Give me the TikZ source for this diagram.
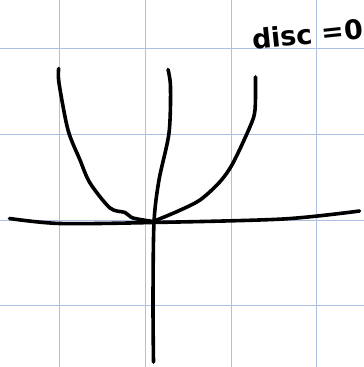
\documentclass[tikz,border=0pt]{standalone}
\usepackage{fontspec}
\newfontfamily\handfont{DejaVu Sans}
\usepackage{tikz}
\usetikzlibrary{positioning}
\definecolor{gridblue}{RGB}{172,192,228}

\begin{document}
\begin{tikzpicture}[
    x=1pt,
    y=-1pt,
    gridline/.style={
        draw=gridblue,
        line width=0.9pt
    },
    pen/.style={
        draw=black,
        line width=3.6pt,
        line cap=round,
        line join=round
    },
    label/.style={
        font=\handfont\bfseries\fontsize{27}{27}\selectfont,
        inner sep=0pt,
        anchor=base west
    }
]

\useasboundingbox (0,0) rectangle (364,367);
\clip (0,0) rectangle (364,367);

% grid paper
\foreach \gx in {59.5,145.5,231,316.5}
    \draw[gridline] (\gx,0) -- (\gx,367);
\foreach \gy in {48,134,220,305.5}
    \draw[gridline] (0,\gy) -- (364,\gy);

% axes
\draw[pen] plot[smooth] coordinates {
    (9.5,218.5) (60,223.5) (153,222.5) (283,219) (359.5,211)};
\draw[pen] plot[smooth] coordinates {
    (168,69.5) (170.5,87) (169,133) (159,180) (154,222.5) (153,300) (153.5,362)};

% curves
\draw[pen] plot[smooth] coordinates {
    (58.7,68.5) (59,83) (68,130) (80,160) (90,183) (110,208)
    (125,212.5) (133,218) (153,221.5)};
\draw[pen] plot[smooth] coordinates {
    (153,221.5) (176.7,211.7) (200,200) (220,181.7) (233,163)
    (250,126.7) (255,110) (255.5,77)};

\node[label, rotate=6] (disc) at (253,50) {disc =0};

\end{tikzpicture}
\end{document}
